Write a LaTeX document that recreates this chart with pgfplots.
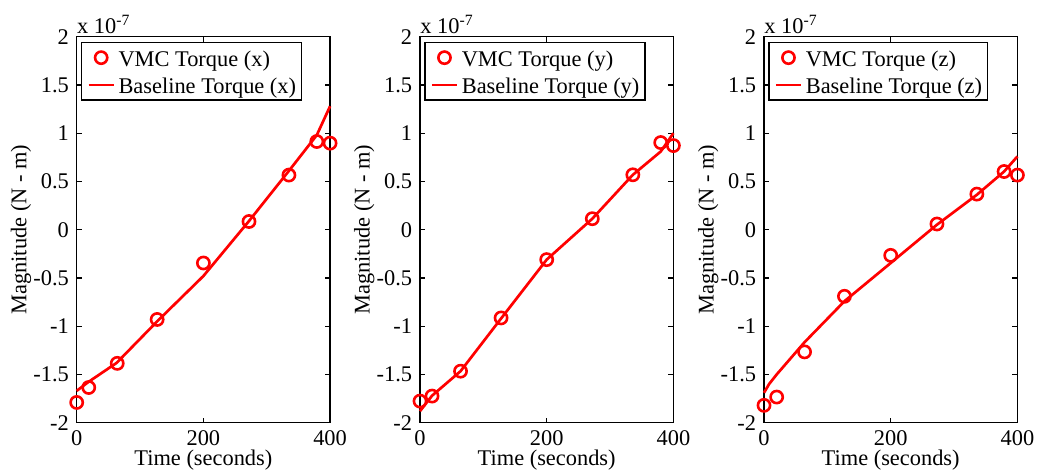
\documentclass[border=0pt]{standalone}
\usepackage{fontspec}
\setmainfont{Liberation Serif}
\usepackage{pgfplots}
\pgfplotsset{compat=1.18}
\pgfplotsset{
 mystyle/.style={
  scale only axis, width=126.7pt, height=193pt,
  xmin=0,xmax=400,ymin=-2,ymax=2, clip=false,
  xtick={0,200,400}, xticklabels={0,200,400},
  ytick={-2,-1.5,-1,-0.5,0,0.5,1,1.5,2},
  yticklabels={-2,-1.5,-1,-0.5,0,0.5,1,1.5,2},
  tick align=inside, major tick length=2.5pt,
  axis line style={line width=0.6pt},
  every tick/.style={black, line width=0.6pt},
  xlabel={Time (seconds)}, ylabel={Magnitude (N - m)},
  xlabel style={at={(axis description cs:0.5,-0.097)}, anchor=center},
  ylabel style={at={(axis description cs:-0.22,0.5)}, anchor=center},
  legend cell align=left,
  legend style={at={(axis description cs:0.017,0.986)}, anchor=north west, draw=black, line width=0.6pt,
    inner xsep=2.85pt, inner ysep=0.65pt, column sep=1.75pt,
    nodes={inner sep=0pt, text height=11pt, text depth=2.65pt}},
  legend image code/.code={\draw[mark repeat=2,mark phase=2,##1] plot coordinates {(0pt,0pt) (6.25pt,0pt) (12.5pt,0pt)};},
 },
 vmc/.style={only marks, mark=o, mark size=3.05pt, red, mark options={line width=1.3pt}},
 base/.style={no marks, red, line width=1.35pt},
}
\begin{document}
\fontsize{11.2}{13.4}\selectfont
\begin{tikzpicture}
\path[use as bounding box] (0,0) rectangle (519pt,236.5pt);
% Panel x
\begin{axis}[mystyle, at={(38.35pt,25.15pt)}, anchor=south west]
\addplot[vmc] coordinates {(0,-1.79)(19,-1.635)(64,-1.385)(127,-0.93)(200,-0.345)(272,0.085)(335,0.566)(379,0.914)(400,0.897)};
\addlegendentry{VMC Torque (x)}
\addplot[base] coordinates {(0,-1.67)(18,-1.58)(63,-1.38)(127,-0.95)(200,-0.48)(272,0.09)(335,0.61)(379,0.98)(400,1.28)};
\addlegendentry{Baseline Torque (x)}
\node[anchor=base west, inner sep=0pt] at (rel axis cs:0,1) [yshift=1.7pt] {x 10\textsuperscript{-7}};
\end{axis}
% Panel y
\begin{axis}[mystyle, at={(210pt,25.15pt)}, anchor=south west]
\addplot[vmc] coordinates {(0,-1.776)(19,-1.724)(64,-1.466)(128,-0.914)(200,-0.31)(272,0.114)(336,0.569)(380,0.903)(400,0.872)};
\addlegendentry{VMC Torque (y)}
\addplot[base] coordinates {(0,-1.88)(19,-1.72)(64,-1.466)(128,-0.92)(200,-0.31)(272,0.114)(336,0.569)(380,0.81)(400,1.0)};
\addlegendentry{Baseline Torque (y)}
\node[anchor=base west, inner sep=0pt] at (rel axis cs:0,1) [yshift=1.7pt] {x 10\textsuperscript{-7}};
\end{axis}
% Panel z
\begin{axis}[mystyle, at={(382pt,25.15pt)}, anchor=south west]
\addplot[vmc] coordinates {(0,-1.82)(20,-1.734)(64,-1.266)(127,-0.69)(200,-0.266)(273,0.059)(336,0.369)(379,0.603)(400,0.566)};
\addlegendentry{VMC Torque (z)}
\addplot[base] coordinates {(0,-1.69)(8,-1.60)(20,-1.50)(64,-1.166)(127,-0.741)(200,-0.345)(273,0.052)(336,0.362)(379,0.603)(400,0.759)};
\addlegendentry{Baseline Torque (z)}
\node[anchor=base west, inner sep=0pt] at (rel axis cs:0,1) [yshift=1.7pt] {x 10\textsuperscript{-7}};
\end{axis}
\end{tikzpicture}
\end{document}
